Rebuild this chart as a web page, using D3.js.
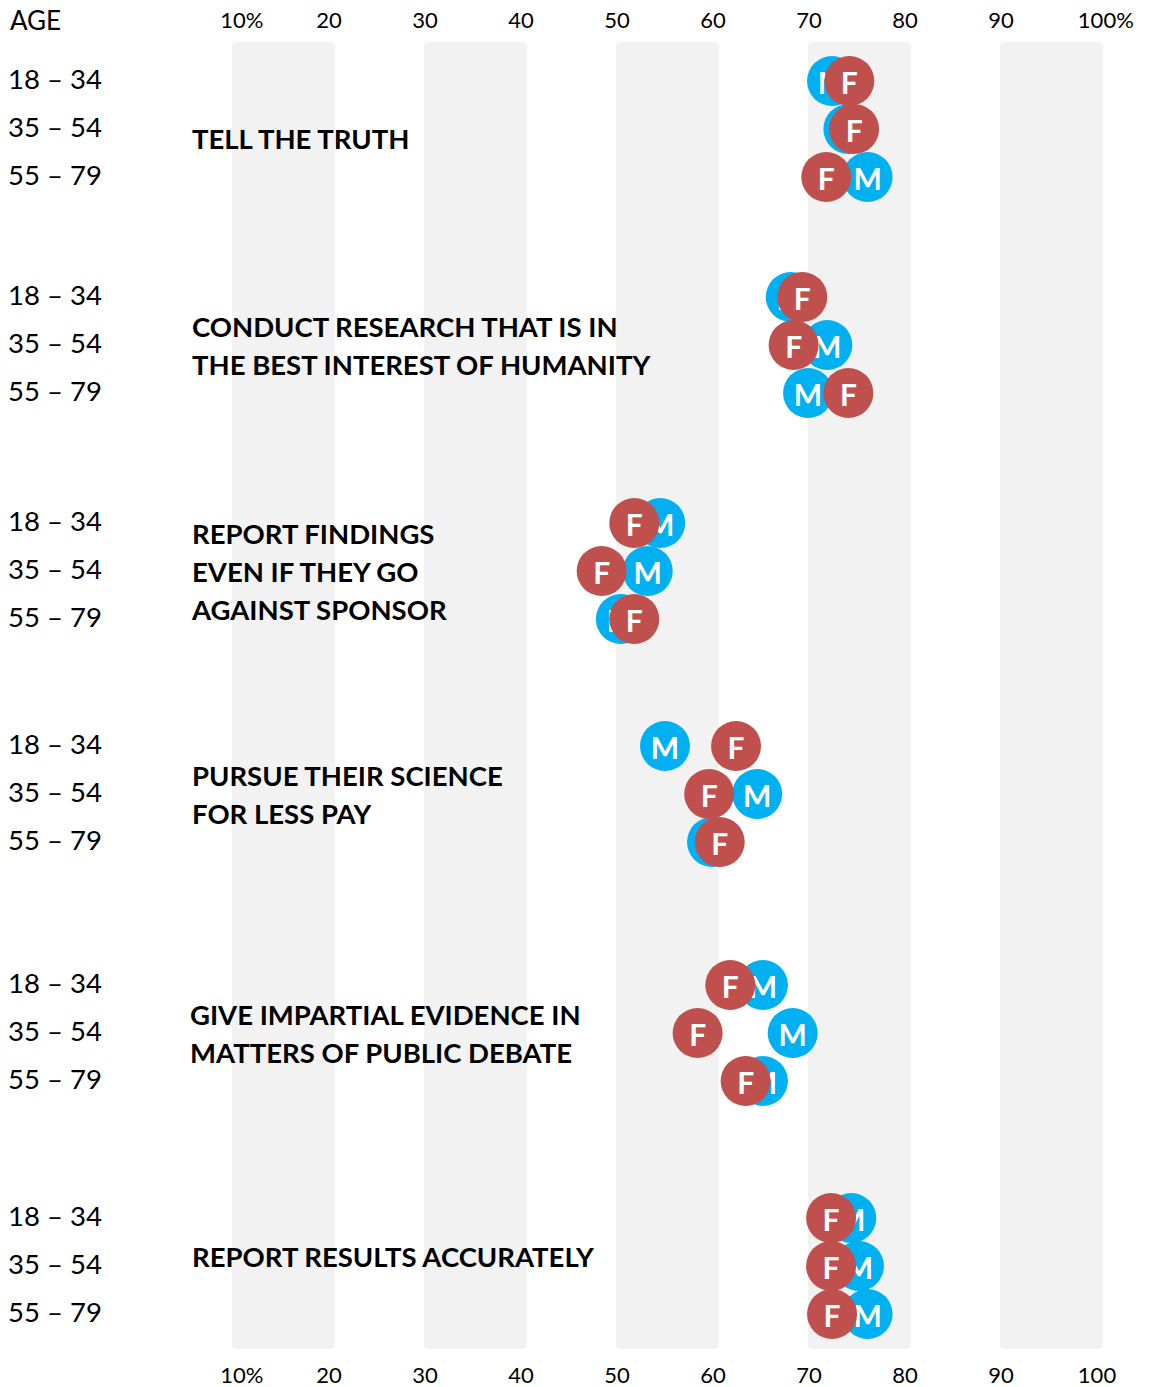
<!DOCTYPE html>
<html>
<head>
<meta charset="utf-8">
<script src="https://cdn.jsdelivr.net/npm/d3@7"></script>
<style>
  body { margin: 0; background: #fff; }
  text { font-family: Lato, "Open Sans", sans-serif; fill: #000; }
</style>
</head>
<body>
<div id="chart"></div>
<script>
// statements (each group has three age rows)
const categories = [
    ['TELL THE TRUTH'],
    ['CONDUCT RESEARCH THAT IS IN', 'THE BEST INTEREST OF HUMANITY'],
    ['REPORT FINDINGS', 'EVEN IF THEY GO', 'AGAINST SPONSOR'],
    ['PURSUE THEIR SCIENCE', 'FOR LESS PAY'],
    ['GIVE IMPARTIAL EVIDENCE IN', 'MATTERS OF PUBLIC DEBATE'],
    ['REPORT RESULTS ACCURATELY']
];
const ageGroups = ['18 – 34', '35 – 54', '55 – 79'];

// percent agreeing, one entry per age group
const maleValues = [
    [72.4, 74.1, 76.1],
    [68.1, 71.9, 69.9],
    [54.5, 53.2, 50.4],
    [55.0, 64.6, 59.9],
    [65.2, 68.3, 65.2],
    [74.4, 75.2, 76.1]
];
const femaleValues = [
    [74.2, 74.7, 71.8],
    [69.3, 68.4, 74.1],
    [51.8, 48.4, 51.8],
    [62.4, 59.6, 60.7],
    [61.8, 58.4, 63.4],
    [72.3, 72.3, 72.4]
];

const tickValues = [10, 20, 30, 40, 50, 60, 70, 80, 90, 100];
const topTickLabels = ['10', '20', '30', '40', '50', '60', '70', '80', '90', '100'];
const bottomTickLabels = ['10', '20', '30', '40', '50', '60', '70', '80', '90', '100'];
const bandStarts = [10, 30, 50, 70, 90];

let drawChart = function() {
    let width = 1151, height = 1387;
    let svg = d3.select('#chart').append('svg')
        .attr('width', width)
        .attr('height', height);

    let x = d3.scaleLinear().domain([10, 100]).range([233, 1097]);
    // group blocks are not evenly spaced in the original layout
    let groupY = d3.scaleOrdinal()
        .domain(d3.range(categories.length))
        .range([129, 345, 571, 794, 1033, 1266]);
    let rowStep = 48;
    let rowY = (g, r) => groupY(g) + (r - 1) * rowStep;

    // shaded columns
    svg.append('g').selectAll('rect')
        .data(bandStarts)
        .enter().append('rect')
            .attr('x', d => x(d) - 1)
            .attr('y', 42)
            .attr('width', d => x(d + 10) - x(d) + 7)
            .attr('height', 1307)
            .attr('rx', 4)
            .attr('fill', '#f2f2f2');

    // tick labels, top and bottom ("%" hangs to the right of the number)
    let drawTicks = function(labels, y, pct) {
        let g = svg.append('g');
        tickValues.forEach(function(v, i) {
            let t = g.append('text')
                .attr('y', y)
                .attr('dominant-baseline', 'central')
                .style('font-size', '22px')
                .text(labels[i]);
            let w = t.node().getComputedTextLength();
            t.attr('x', x(v) - w / 2);
            if (pct[i]) t.append('tspan').text('%');
        });
    };
    drawTicks(topTickLabels, 19, tickValues.map(v => v === 10 || v === 100));
    drawTicks(bottomTickLabels, 1374, tickValues.map(v => v === 10));

    svg.append('text')
        .attr('x', 10).attr('y', 20)
        .attr('dominant-baseline', 'central')
        .style('font-size', '26px')
        .text('AGE');

    // age labels and statement labels
    categories.forEach(function(lines, g) {
        ageGroups.forEach(function(a, r) {
            svg.append('text')
                .attr('x', 8).attr('y', rowY(g, r) - 3)
                .attr('dominant-baseline', 'central')
                .style('font-size', '27.5px')
                .text(a);
        });
        let lineH = 38;
        let top = groupY(g) - (lines.length - 1) * lineH / 2;
        if (lines.length === 1) top += (g === 0 ? 9 : -10);
        lines.forEach(function(l, k) {
            svg.append('text')
                .attr('x', g === 4 ? 190 : 192).attr('y', top + k * lineH)
                .attr('dominant-baseline', 'central')
                .style('font-size', '27.5px')
                .style('font-weight', 'bold')
                .text(l);
        });
    });

    // dots: men first, women on top
    let dots = [];
    maleValues.forEach((row, g) => row.forEach((v, r) => dots.push({g: g, r: r, v: v, s: 'M', c: '#00b0f0'})));
    femaleValues.forEach((row, g) => row.forEach((v, r) => dots.push({g: g, r: r, v: v, s: 'F', c: '#c0504d'})));

    let dot = svg.append('g').selectAll('g')
        .data(dots)
        .enter().append('g')
            .attr('transform', d => 'translate(' + x(d.v) + ',' + rowY(d.g, d.r) + ')');
    dot.append('circle')
        .attr('r', 25)
        .attr('fill', d => d.c);
    dot.append('text')
        .attr('text-anchor', 'middle')
        .attr('dominant-baseline', 'central')
        .attr('y', 1)
        .style('font-size', '30px')
        .style('font-weight', 'bold')
        .style('fill', '#fff')
        .text(d => d.s);
};

drawChart();
</script>
</body>
</html>
